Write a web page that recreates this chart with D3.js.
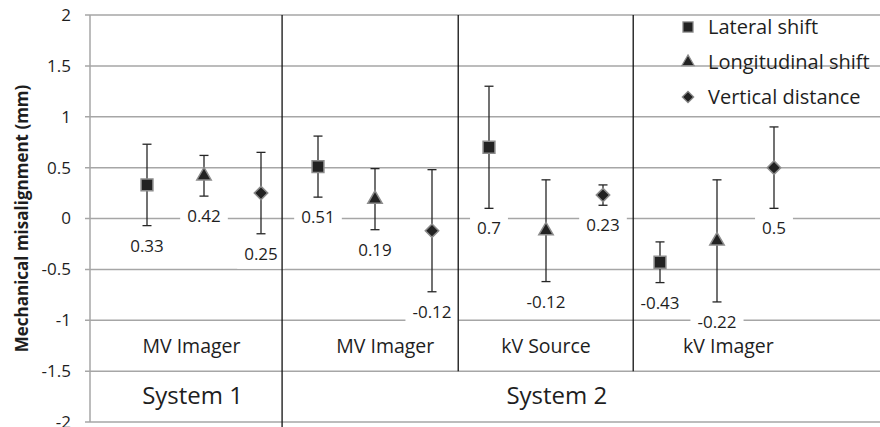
<!DOCTYPE html>
<html>
<head>
  <meta charset="utf-8">
  <script src="https://cdn.jsdelivr.net/npm/d3@7/dist/d3.min.js"></script>
  <style>
    html, body {
        margin: 0px;
        padding: 0px;
        background: #fff;
    }
    text {
        font-family: "Open Sans", sans-serif;
        fill: #1e1e1e;
    }
  </style>
  <title></title>
</head>
<body>
<div id="chart"></div>
<script>
    // Values
    var categories = ["MV Imager", "MV Imager", "kV Source", "kV Imager"];
    var systems = ["System 1", "System 2"];
    var series = ["Lateral shift", "Longitudinal shift", "Vertical distance"];
    var lateral = [0.33, 0.51, 0.7, -0.43];
    var longitudinal = [0.42, 0.19, -0.12, -0.22];
    var vertical = [0.25, -0.12, 0.23, 0.5];
    var lateralErr = [0.4, 0.3, 0.6, 0.2];
    var longitudinalErr = [0.2, 0.3, 0.5, 0.6];
    var verticalErr = [0.4, 0.6, 0.1, 0.4];
    var yTicks = [2, 1.5, 1, 0.5, 0, -0.5, -1, -1.5, -2];

    // layout in point-index units (point i = group*3 + series)
    var groupEdges = [2.37, 5.46, 8.53];
    var categoryCenters = [0.78, 4.18, 7.0, 10.2];
    var systemCenters = [0.8, 7.19];

    var width = 880, height = 427;
    var svg = d3.select("#chart").append("svg")
        .attr("width", width).attr("height", height);

    var x = d3.scaleLinear().domain([0, 11]).range([147, 774]);
    var y = d3.scaleLinear().domain([-2, 2]).range([422, 15]);
    var left = 90;

    // gridlines
    svg.append("g").selectAll("line").data(yTicks).enter().append("line")
        .attr("x1", left - 5).attr("x2", width)
        .attr("y1", function(d){ return y(d); })
        .attr("y2", function(d){ return y(d); })
        .style("stroke", "#a6a6a6").style("stroke-width", 1.5);

    svg.append("line")
        .attr("x1", left).attr("x2", left)
        .attr("y1", y(2)).attr("y2", y(-2))
        .style("stroke", "#a6a6a6").style("stroke-width", 1.5);

    svg.append("g").selectAll("text").data(yTicks).enter().append("text")
        .attr("x", left - 19)
        .attr("y", function(d){ return y(d); })
        .attr("dy", "0.35em")
        .attr("text-anchor", "end")
        .style("font-size", "17px")
        .text(function(d){ return String(d); });

    svg.append("text")
        .attr("transform", "translate(28," + y(0) + ") rotate(-90)")
        .attr("text-anchor", "middle")
        .style("font-size", "17px").style("font-weight", "bold")
        .text("Mechanical misalignment (mm)");

    svg.append("g").selectAll("text").data(categories).enter().append("text")
        .attr("x", function(d, i){ return x(categoryCenters[i]); })
        .attr("y", y(-1.25)).attr("dy", "0.35em")
        .attr("text-anchor", "middle")
        .style("font-size", "19.5px")
        .text(function(d){ return d; });

    svg.append("g").selectAll("text").data(systems).enter().append("text")
        .attr("x", function(d, i){ return x(systemCenters[i]); })
        .attr("y", y(-1.74)).attr("dy", "0.35em")
        .attr("text-anchor", "middle")
        .style("font-size", "24px")
        .text(function(d){ return d; });

    // points
    var values = [lateral, longitudinal, vertical];
    var errs = [lateralErr, longitudinalErr, verticalErr];
    var shapes = [
        d3.symbol().type(d3.symbolSquare).size(140),
        d3.symbol().type(d3.symbolTriangle).size(90),
        d3.symbol().type(d3.symbolSquare).size(90)
    ];
    var rot = [0, 0, 45];

    var points = [];
    categories.forEach(function(c, g){
        series.forEach(function(s, k){
            points.push({i: g * 3 + k, s: k, v: values[k][g], e: errs[k][g]});
        });
    });

    var bars = svg.append("g").style("stroke", "#262626").style("stroke-width", 1.3);
    points.forEach(function(p){
        var px = x(p.i);
        bars.append("line").attr("x1", px).attr("x2", px)
            .attr("y1", y(p.v + p.e)).attr("y2", y(p.v - p.e));
        [p.v + p.e, p.v - p.e].forEach(function(t){
            bars.append("line").attr("x1", px - 4.5).attr("x2", px + 4.5)
                .attr("y1", y(t)).attr("y2", y(t));
        });
    });

    svg.append("g").selectAll("path").data(points).enter().append("path")
        .attr("d", function(d){ return shapes[d.s](); })
        .attr("transform", function(d){
            return "translate(" + x(d.i) + "," + y(d.v) + ") rotate(" + rot[d.s] + ")";
        })
        .style("fill", "#222").style("stroke", "#8c8c8c").style("stroke-width", 1.5);

    // data labels below the error bars
    var labels = svg.append("g").selectAll("g").data(points).enter().append("g")
        .attr("transform", function(d){
            return "translate(" + x(d.i) + "," + (y(d.v - d.e) + 20) + ")";
        });
    labels.append("rect").attr("class", "bg");
    labels.append("text")
        .attr("text-anchor", "middle").attr("dy", "0.35em")
        .style("font-size", "17px")
        .text(function(d){ return String(d.v); });
    labels.each(function(){
        var g = d3.select(this);
        var w = g.select("text").node().getComputedTextLength();
        g.select("rect").attr("x", -w / 2 - 7).attr("width", w + 14)
            .attr("y", -15).attr("height", 30).style("fill", "#fff");
    });

    // group separators
    svg.append("g").selectAll("line").data(groupEdges).enter().append("line")
        .attr("x1", function(d){ return x(d); })
        .attr("x2", function(d){ return x(d); })
        .attr("y1", y(2))
        .attr("y2", function(d, i){ return i == 0 ? height : y(-1.5); })
        .style("stroke", "#111").style("stroke-width", 1.3);

    // legend
    var legend = svg.append("g").selectAll("g").data(series).enter().append("g")
        .attr("transform", function(d, i){ return "translate(688," + (27 + i * 35) + ")"; });
    legend.append("path")
        .attr("d", function(d, i){ return shapes[i](); })
        .attr("transform", function(d, i){ return "rotate(" + rot[i] + ") scale(0.85)"; })
        .style("fill", "#222").style("stroke", "#8c8c8c").style("stroke-width", 1.5);
    legend.append("text")
        .attr("x", 20).attr("dy", "0.35em")
        .style("font-size", "20px")
        .text(function(d){ return d; });
</script>
</body>
</html>
